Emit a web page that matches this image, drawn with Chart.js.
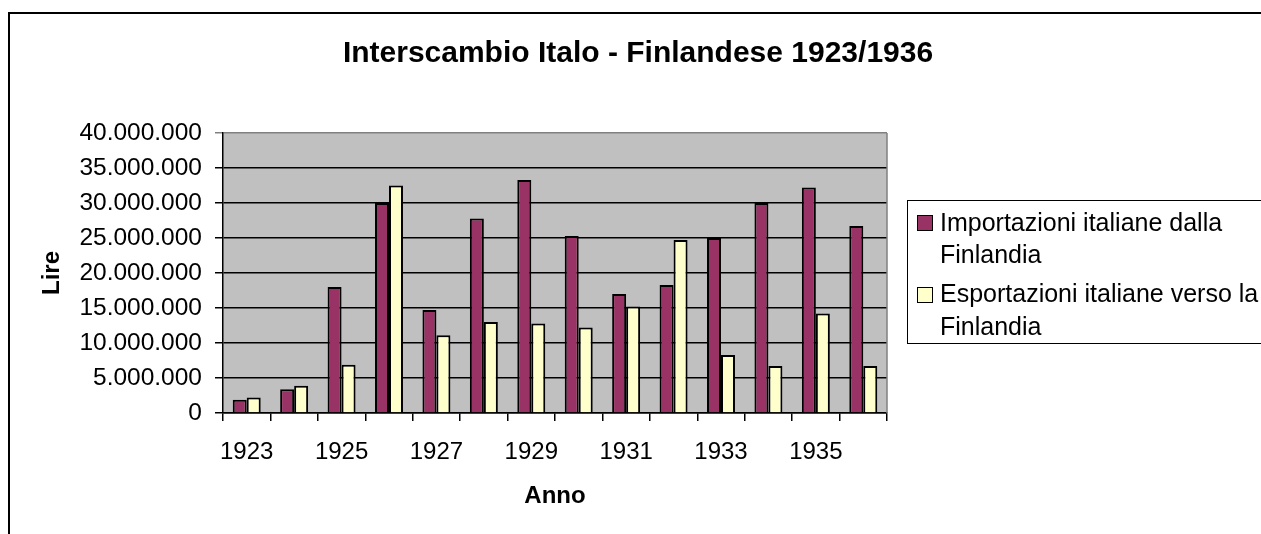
<!DOCTYPE html>
<html><head><meta charset="utf-8">
<script src="https://cdn.jsdelivr.net/npm/chart.js@4"></script>
<style>html,body{margin:0;padding:0;background:#fff;overflow:hidden;}</style>
</head><body>
<canvas id="c" width="1261" height="534"></canvas>
<script>
const titleText = 'Interscambio Italo - Finlandese 1923/1936';
const xTitle = 'Anno';
const yTitle = 'Lire';
const years = ['1923','1924','1925','1926','1927','1928','1929','1930','1931','1932','1933','1934','1935','1936'];
const importLabel = ['Importazioni italiane dalla', 'Finlandia'];
const exportLabel = ['Esportazioni italiane verso la', 'Finlandia'];
const imports = [1900000, 3400000, 18000000, 30000000, 14700000, 27800000, 33300000, 25300000, 17000000, 18300000, 25000000, 30000000, 32200000, 26700000];
const exportsIt = [2200000, 3900000, 6900000, 32500000, 11100000, 13000000, 12800000, 12200000, 15200000, 24700000, 8300000, 6700000, 14200000, 6700000];
const yMin = 0, yMax = 40000000, yStep = 5000000;

const FONT = '"Liberation Sans", Arial, sans-serif';
function fmt(v){ return String(v).replace(/\B(?=(\d{3})+(?!\d))/g, '.'); }

const decor = {
  id: 'decor',
  beforeDraw(chart){
    const {ctx, chartArea: a} = chart;
    ctx.save();
    ctx.fillStyle = '#fff';
    ctx.fillRect(0, 0, chart.width, chart.height);
    ctx.strokeStyle = '#000';
    ctx.lineWidth = 2;
    ctx.beginPath();
    ctx.moveTo(9, chart.height + 5);
    ctx.lineTo(9, 13);
    ctx.lineTo(chart.width + 5, 13);
    ctx.stroke();
    ctx.fillStyle = '#C0C0C0';
    ctx.fillRect(a.left, a.top, a.right - a.left, a.bottom - a.top);
    ctx.restore();
  },
  afterDraw(chart){
    const {ctx, chartArea: a} = chart;
    ctx.save();
    ctx.strokeStyle = '#808080';
    ctx.lineWidth = 1.5;
    ctx.beginPath();
    ctx.moveTo(a.right, a.top);
    ctx.lineTo(a.right, a.bottom);
    ctx.stroke();
    ctx.fillStyle = '#000';
    ctx.font = 'bold 30px ' + FONT;
    ctx.textAlign = 'center';
    ctx.textBaseline = 'alphabetic';
    ctx.fillText(titleText, 638, 62);
    ctx.strokeStyle = '#000';
    ctx.lineWidth = 1;
    ctx.strokeRect(907.5, 200.5, 420, 143);
    ctx.font = '25px ' + FONT;
    ctx.textAlign = 'left';
    const items = [
      {lines: importLabel, color: chart.data.datasets[0].backgroundColor, sq: 215, base: [231, 263]},
      {lines: exportLabel, color: chart.data.datasets[1].backgroundColor, sq: 287, base: [302, 335]}
    ];
    items.forEach(it => {
      ctx.fillStyle = it.color;
      ctx.fillRect(917, it.sq, 15, 15);
      ctx.strokeRect(917.5, it.sq + 0.5, 15, 15);
      ctx.fillStyle = '#000';
      it.lines.forEach((t, i) => ctx.fillText(t, 940, it.base[i]));
    });
    ctx.restore();
  }
};

new Chart(document.getElementById('c'), {
  type: 'bar',
  data: {
    labels: years,
    datasets: [
      {label: importLabel.join(' '), data: imports, backgroundColor: '#993366', borderColor: '#000', borderWidth: 2, categoryPercentage: 0.59, barPercentage: 1.0},
      {label: exportLabel.join(' '), data: exportsIt, backgroundColor: '#FFFFCC', borderColor: '#000', borderWidth: 2, categoryPercentage: 0.59, barPercentage: 1.0}
    ]
  },
  options: {
    responsive: false,
    animation: false,
    devicePixelRatio: 1,
    layout: {padding: {left: 0, top: 133, right: 374, bottom: 0}},
    plugins: {legend: {display: false}, title: {display: false}, tooltip: {enabled: false}},
    scales: {
      x: {
        offset: true,
        grid: {offset: true, drawOnChartArea: false, drawTicks: true, tickLength: 8, color: '#000', lineWidth: 1.5},
        border: {color: '#000', width: 1.5},
        ticks: {autoSkip: false, maxRotation: 0, color: '#000', font: {family: FONT, size: 24}, padding: 17,
          callback: (v, i) => (i % 2 === 0 ? years[i] : '')},
        title: {display: true, text: xTitle, color: '#000', font: {family: FONT, size: 24, weight: 'bold'}, padding: {top: 0, bottom: 23}},
        afterFit: s => { s.height = 121; }
      },
      y: {
        min: yMin, max: yMax,
        grid: {color: c => (c.tick && c.tick.value === yMax ? '#808080' : '#000'), lineWidth: 1.5, tickLength: 8},
        border: {color: '#000', width: 1.5},
        ticks: {stepSize: yStep, color: '#000', font: {family: FONT, size: 24.5}, padding: 13, callback: v => fmt(v)},
        title: {display: true, text: yTitle, color: '#000', font: {family: FONT, size: 24, weight: 'bold'}, padding: {top: 38, bottom: 0}},
        afterFit: s => { s.width = 223; }
      }
    }
  },
  plugins: [decor]
});
</script>
</body></html>
